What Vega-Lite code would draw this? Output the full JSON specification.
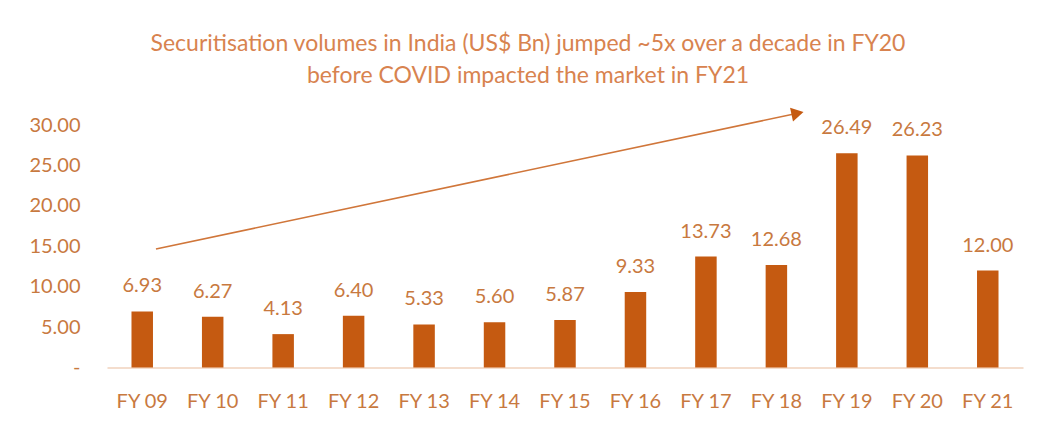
{
  "$schema": "https://vega.github.io/schema/vega-lite/v6.json",
  "autosize": {"type": "none"},
  "width": 916,
  "height": 242.5,
  "padding": {"left": 107, "top": 125, "right": 21, "bottom": 62.5},
  "background": "white",
  "title": {
    "text": ["Securitisation volumes in India (US$ Bn) jumped ~5x over a decade in FY20", "before COVID impacted the market in FY21"],
    "anchor": "middle",
    "dx": -37,
    "font": "Lato",
    "fontSize": 23,
    "fontWeight": "normal",
    "color": "#D8834F",
    "lineHeight": 32,
    "offset": 20
  },
  "config": {
    "view": {"stroke": null},
    "font": "Lato"
  },
  "datasets": {
    "vol": [
      {"fy": "FY 09", "v": 6.93},
      {"fy": "FY 10", "v": 6.27},
      {"fy": "FY 11", "v": 4.13},
      {"fy": "FY 12", "v": 6.40},
      {"fy": "FY 13", "v": 5.33},
      {"fy": "FY 14", "v": 5.60},
      {"fy": "FY 15", "v": 5.87},
      {"fy": "FY 16", "v": 9.33},
      {"fy": "FY 17", "v": 13.73},
      {"fy": "FY 18", "v": 12.68},
      {"fy": "FY 19", "v": 26.49},
      {"fy": "FY 20", "v": 26.23},
      {"fy": "FY 21", "v": 12.00}
    ],
    "arrow": [
      {"ax": 0.695, "ay": 14.66, "ax2": 9.8, "ay2": 31.45}
    ]
  },
  "layer": [
    {
      "data": {"name": "vol"},
      "encoding": {
        "x": {
          "field": "fy", "type": "nominal", "sort": null,
          "scale": {"paddingInner": 0.695, "paddingOuter": 0.3475},
          "axis": {
            "title": null, "labelAngle": 0, "ticks": false, "tickSize": 0,
            "domainColor": "#F4DDCD", "domainWidth": 2,
            "labelFont": "Lato", "labelFontSize": 20, "labelColor": "#C8793F",
            "labelBaseline": "alphabetic", "labelPadding": 39.5
          }
        },
        "y": {
          "field": "v", "type": "quantitative",
          "scale": {"domain": [0, 30], "nice": false},
          "axis": {
            "title": null, "values": [0, 5, 10, 15, 20, 25, 30],
            "labelExpr": "datum.value == 0 ? '-\u00a0\u00a0\u00a0' : format(datum.value, '.2f')",
            "grid": false, "ticks": false, "tickSize": 0, "domain": false,
            "labelFont": "Lato", "labelFontSize": 20, "labelColor": "#C8793F",
            "labelPadding": 27
          }
        }
      },
      "layer": [
        {"mark": {"type": "bar", "color": "#C55A11"}},
        {
          "mark": {"type": "text", "font": "Lato", "fontSize": 20, "color": "#C8793F", "baseline": "alphabetic", "dy": -19},
          "encoding": {"text": {"field": "v", "type": "quantitative", "format": ".2f"}}
        }
      ]
    },
    {
      "data": {"name": "arrow"},
      "encoding": {
        "x": {"field": "ax", "type": "quantitative", "scale": {"domain": [0, 13], "nice": false, "zero": false}, "axis": null},
        "y": {"field": "ay", "type": "quantitative"}
      },
      "layer": [
        {
          "mark": {"type": "rule", "color": "#D0763A", "strokeWidth": 1.6},
          "encoding": {"x2": {"field": "ax2"}, "y2": {"field": "ay2"}}
        },
        {
          "mark": {"type": "point", "shape": "triangle-up", "filled": true, "color": "#C55A11", "opacity": 1, "size": 200, "angle": 78},
          "encoding": {
            "x": {"field": "ax2", "type": "quantitative"},
            "y": {"field": "ay2", "type": "quantitative"}
          }
        }
      ]
    }
  ],
  "resolve": {"scale": {"x": "independent"}, "axis": {"x": "independent"}}
}
